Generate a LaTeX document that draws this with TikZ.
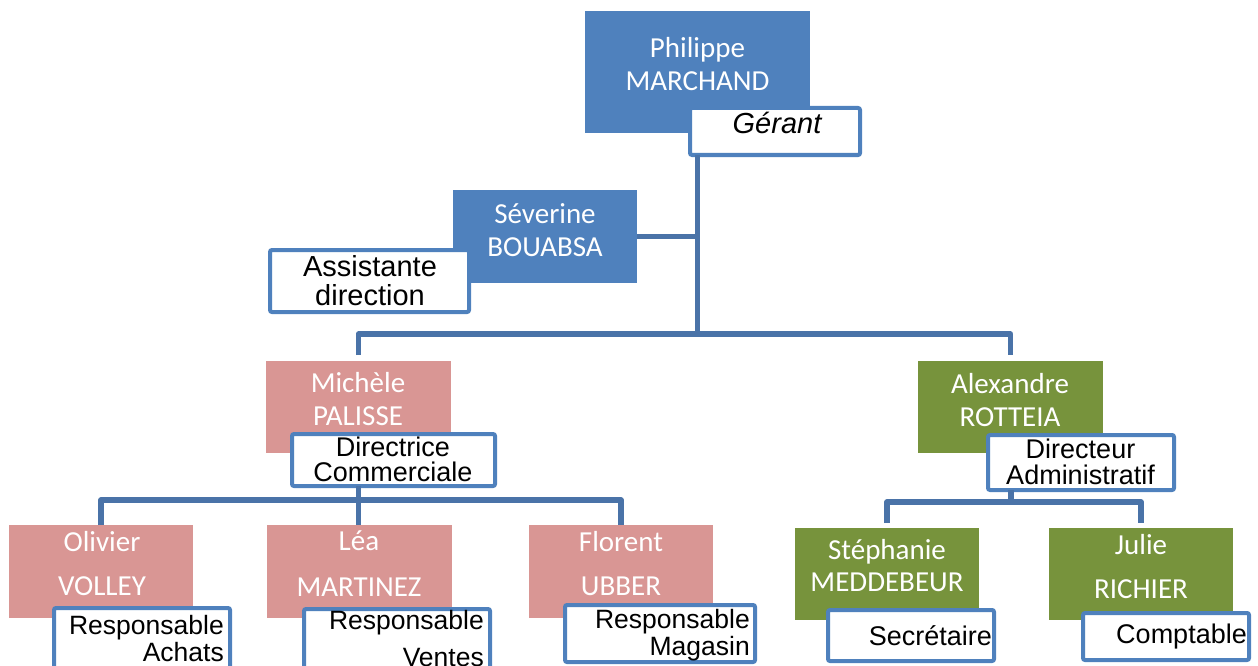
\documentclass[tikz,border=0pt]{standalone}
\usepackage{fontspec}
\newfontfamily\namefont{Carlito}
\newfontfamily\rolefont{Liberation Sans}
\definecolor{boxblue}{HTML}{4F81BD}
\definecolor{lineblue}{HTML}{4A73A8}
\definecolor{pinkbox}{HTML}{D99694}
\definecolor{greenbox}{HTML}{77933C}
\begin{document}
\begin{tikzpicture}[x=1pt,y=-1pt,
  namebox/.style={rectangle, inner sep=0pt, outer sep=0pt, draw=none},
  rolebox/.style={rectangle, draw=boxblue, line width=4pt, fill=white, rounded corners=2pt, inner sep=0pt, outer sep=0pt},
  conn/.style={draw=lineblue, line width=5.5pt},
  namet/.style={text=white, align=center, inner sep=0pt, font=\namefont\fontsize{29}{33}\selectfont},
  rolet/.style={text=black, inner sep=0pt, font=\rolefont\fontsize{27}{27}\selectfont}]
\useasboundingbox (0,0) rectangle (1258,666);
% name boxes
\node[namebox, fill=boxblue, minimum width=225pt, minimum height=122pt] (phil) at (697.5,72) {};
\node[namebox, fill=boxblue, minimum width=184pt, minimum height=93pt] (sev) at (545,236.5) {};
\node[namebox, fill=pinkbox, minimum width=185pt, minimum height=92pt] (mich) at (358.5,407) {};
\node[namebox, fill=greenbox, minimum width=185pt, minimum height=92pt] (alex) at (1010.5,407) {};
\node[namebox, fill=pinkbox, minimum width=184pt, minimum height=93pt] (oliv) at (101,571.5) {};
\node[namebox, fill=pinkbox, minimum width=185pt, minimum height=93pt] (lea) at (359.5,571.5) {};
\node[namebox, fill=pinkbox, minimum width=184pt, minimum height=93pt] (flor) at (621,571.5) {};
\node[namebox, fill=greenbox, minimum width=184pt, minimum height=92pt] (steph) at (887,574) {};
\node[namebox, fill=greenbox, minimum width=184pt, minimum height=92pt] (julie) at (1141,574) {};
% name texts
\node[namet] (tphil) at (697.5,64.5) {Philippe\\MARCHAND};
\node[namet] (tsev) at (545,230.5) {Séverine\\BOUABSA};
\node[namet] (tmich) at (358,399.5) {Michèle\\PALISSE};
\node[namet] (talex) at (1010,400.5) {Alexandre\\ROTTEIA};
\node[namet] (toliv) at (102,564) {Olivier\\[11pt]VOLLEY};
\node[namet] (tlea) at (359,564) {Léa\\[13pt]MARTINEZ};
\node[namet] (tflor) at (621,564) {Florent\\[11pt]UBBER};
\node[namet] (tsteph) at (887,566) {Stéphanie\\[-1pt]MEDDEBEUR};
\node[namet] (tjulie) at (1141,567) {Julie\\[11pt]RICHIER};
% role boxes
\node[rolebox, minimum width=170pt, minimum height=47pt] (gerant) at (775,131.5) {};
\node[rolebox, minimum width=199pt, minimum height=62pt] (assist) at (369.5,281) {};
\node[rolebox, minimum width=203pt, minimum height=52pt] (dirc) at (393.5,460) {};
\node[rolebox, minimum width=186pt, minimum height=55pt] (dira) at (1081,462.5) {};
\node[rolebox, minimum width=176pt, minimum height=70pt] (rachat) at (142,643) {};
\node[rolebox, minimum width=186pt, minimum height=79pt] (rvente) at (397,648.5) {};
\node[rolebox, minimum width=190pt, minimum height=57pt] (rmag) at (660,633.5) {};
\node[rolebox, minimum width=166pt, minimum height=51pt] (secr) at (911,635.5) {};
\node[rolebox, minimum width=166pt, minimum height=47pt] (compt) at (1166,636.5) {};
% role texts
\node[rolet, font=\rolefont\itshape\fontsize{29}{30}\selectfont] (tger) at (777,123) {Gérant};
\node[rolet, align=center, font=\rolefont\fontsize{29}{29}\selectfont] (tassist) at (370,280.5) {Assistante\\direction};
\node[rolet, align=center, font=\rolefont\fontsize{27}{25}\selectfont] (tdirc) at (393,459.5) {Directrice\\Commerciale};
\node[rolet, align=center, font=\rolefont\fontsize{27}{26}\selectfont] (tdira) at (1080.5,462) {Directeur\\Administratif};
\node[rolet, align=right, anchor=east, font=\rolefont\fontsize{26.5}{27}\selectfont] (trachat) at (224,638.5) {Responsable\\Achats};
\node[rolet, align=right, anchor=east, font=\rolefont\fontsize{26.5}{27}\selectfont] (trvente) at (484,638.5) {Responsable\\[10pt]Ventes};
\node[rolet, align=right, anchor=east, font=\rolefont\fontsize{26.5}{27}\selectfont] (trmag) at (750,635.5) {Responsable\\Magasin};
\node[rolet, anchor=east] (tsecr) at (992,636) {Secrétaire};
\node[rolet, anchor=east] (tcompt) at (1247,637) {Comptable};
% connectors
\coordinate (bar) at (697.5,334);
\coordinate (barC) at (358.5,500);
\coordinate (barR) at (1011,502);
\draw[conn] (gerant.south -| phil.south) -- (bar);
\draw[conn] (sev.east) -- (sev.east -| phil.south);
\draw[conn, line join=round] ([yshift=6pt]mich.north) |- (bar) -| ([yshift=6pt]alex.north);
\draw[conn] (dirc.south -| barC) -- (barC);
\draw[conn, line join=round] (oliv.north) |- (barC) -| (flor.north);
\draw[conn] (barC) -- (barC |- lea.north);
\draw[conn] (dira.south -| barR) -- (barR);
\draw[conn, line join=round] ([yshift=5pt]steph.north) |- (barR) -| ([yshift=5pt]julie.north);
\end{tikzpicture}
\end{document}
